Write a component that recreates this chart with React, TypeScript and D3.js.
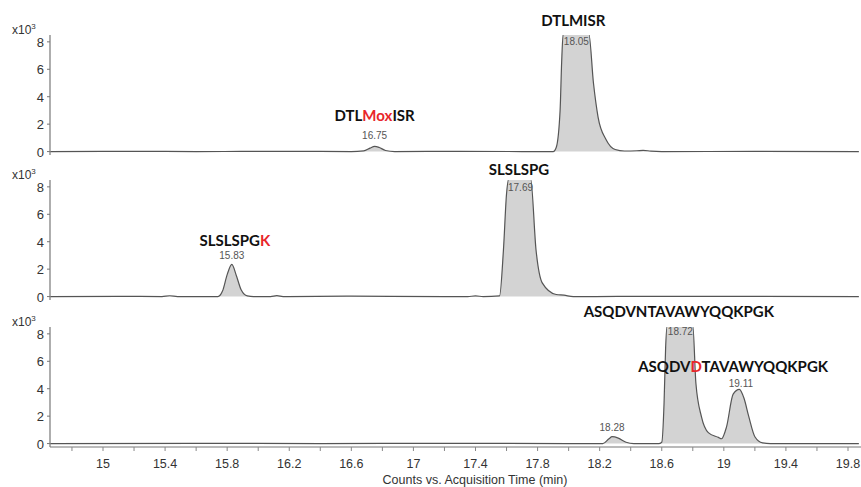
import React from 'react';
import * as d3 from 'd3';

// chromatogram traces (counts x10^3 vs minutes)
const dtlTimes = [14.66, 15.2, 15.6, 16.2, 16.6, 16.68, 16.72, 16.75, 16.78, 16.82, 16.88, 17.3, 17.7, 17.9, 17.92, 17.945, 17.955, 17.965, 18.13, 18.16, 18.19, 18.24, 18.3, 18.36, 18.44, 18.48, 18.53, 18.6, 19.2, 19.87];
const dtlCounts = [0, 0.02, 0, 0.02, 0, 0.05, 0.25, 0.38, 0.3, 0.08, 0, 0.02, 0, 0, 0.3, 3, 6.5, 8.6, 8.6, 5.0, 2.5, 0.9, 0.15, 0.04, 0.06, 0.09, 0.03, 0, 0.01, 0];

const slsTimes = [14.66, 15.1, 15.38, 15.43, 15.48, 15.74, 15.77, 15.8, 15.83, 15.86, 15.89, 15.93, 15.97, 16.08, 16.12, 16.16, 16.6, 17.2, 17.35, 17.4, 17.45, 17.555, 17.58, 17.6, 17.615, 17.755, 17.79, 17.83, 17.92, 17.97, 18.03, 18.6, 19.87];
const slsCounts = [0, 0.02, 0, 0.06, 0, 0, 0.4, 1.6, 2.35, 1.5, 0.5, 0.05, 0, 0, 0.07, 0, 0.03, 0, 0, 0.05, 0, 0.05, 3.4, 7.5, 8.6, 8.6, 3.4, 1.0, 0.15, 0.1, 0, 0.02, 0];

const asqTimes = [14.66, 15.6, 16.4, 17.2, 18.0, 18.22, 18.26, 18.28, 18.32, 18.37, 18.42, 18.58, 18.6, 18.615, 18.625, 18.635, 18.8, 18.82, 18.856, 18.9, 18.965, 18.985, 19.017, 19.06, 19.1, 19.13, 19.16, 19.2, 19.25, 19.3, 19.87];
const asqCounts = [0, 0.02, 0, 0.02, 0, 0, 0.35, 0.5, 0.4, 0.1, 0, 0, 0.1, 3, 7, 8.6, 8.6, 4.4, 1.95, 0.8, 0.45, 0.35, 1.2, 3.6, 3.95, 3.3, 2.0, 0.5, 0.05, 0, 0];

const xTicks = [15, 15.4, 15.8, 16.2, 16.6, 17, 17.4, 17.8, 18.2, 18.6, 19, 19.4, 19.8];
const yTicks = [0, 2, 4, 6, 8];

const traces = [
  { times: dtlTimes, counts: dtlCounts },
  { times: slsTimes, counts: slsCounts },
  { times: asqTimes, counts: asqCounts },
];

// peptide names: text pieces, red marks the modified residue
const peptideNames = [
  [[['DTL', false], ['Mox', true], ['ISR', false]], [['DTLMISR', false]]],
  [[['SLSLSPG', false], ['K', true]], [['SLSLSPG', false]]],
  [[['ASQDVNTAVAWYQQKPGK', false]], [['ASQDV', false], ['D', true], ['TAVAWYQQKPGK', false]]],
];
const peptideAt = [[[16.75, 2.2], [18.03, 9.15]], [[15.85, 3.7], [17.68, 8.9]], [[18.71, 9.2], [19.06, 5.2]]];

const rtLabels = [['16.75', '18.05'], ['15.83', '17.69'], ['18.28', '18.72', '19.11']];
const rtAt = [[[16.75, 0.95], [18.05, 7.75]], [[15.83, 2.75], [17.69, 7.7]], [[18.28, 0.95], [18.72, 7.9], [19.11, 4.1]]];

export default function App() {
  const width = 861, height = 487;
  const left = 50, right = 861;
  const tops = [35, 180, 327];
  const panelH = 120;

  const x = d3.scaleLinear().domain([15, 19.8]).range([103, 848]);
  const minor = d3.range(14.8, 19.9, 0.2);

  return (
    <svg width={width} height={height} style={{ position: 'absolute', left: 0, top: 0, background: '#fff' }}
      fontFamily="'Liberation Sans', Arial, sans-serif">
      <defs>
        {tops.map((t, i) => (
          <clipPath id={'clip' + i} key={i}>
            <rect x={left} y={t} width={right - left} height={panelH} />
          </clipPath>
        ))}
      </defs>
      {tops.map((top, i) => {
        const y = d3.scaleLinear().domain([-0.25, 8.5]).range([top + panelH, top]);
        const tr = traces[i];
        const pts = tr.times.map((t, k) => [t, tr.counts[k]] as [number, number]);
        const area = d3.area<[number, number]>()
          .x(d => x(d[0])).y0(y(0)).y1(d => y(d[1]))
          .curve(d3.curveMonotoneX);
        const line = d3.line<[number, number]>()
          .x(d => x(d[0])).y(d => y(d[1]))
          .curve(d3.curveMonotoneX);
        return (
          <g key={i}>
            <g clipPath={`url(#clip${i})`}>
              <path d={area(pts) || ''} fill="#d3d3d3" />
              <path d={line(pts) || ''} fill="none" stroke="#555" strokeWidth={1.2} />
            </g>
            <line x1={left} x2={left} y1={top} y2={top + panelH} stroke="#777" strokeWidth={1.2} />
            {yTicks.map(v => (
              <g key={v}>
                <line x1={left - 3} x2={left} y1={y(v)} y2={y(v)} stroke="#777" />
                <text x={left - 6} y={y(v) + 5} textAnchor="end" fontSize={13} fill="#333">{v}</text>
              </g>
            ))}
            <text x={12} y={top - 1} fontSize={12} fill="#333">x10<tspan fontSize={8} dy={-5}>3</tspan></text>
            {peptideNames[i].map((segs, j) => (
              <text key={'p' + j} x={x(peptideAt[i][j][0])} y={y(peptideAt[i][j][1])} textAnchor="middle"
                fontFamily="Lato, 'Open Sans', sans-serif" fontWeight="bold" fontSize={15} fill="#111">
                {segs.map((s, k) => <tspan key={k} fill={s[1] ? '#e8262a' : '#111'}>{s[0] as string}</tspan>)}
              </text>
            ))}
            {rtLabels[i].map((s, j) => (
              <text key={'r' + j} x={x(rtAt[i][j][0])} y={y(rtAt[i][j][1])} textAnchor="middle" fontSize={10} fill="#555">{s}</text>
            ))}
          </g>
        );
      })}
      {/* x axis under the last panel */}
      <line x1={left} x2={right} y1={447} y2={447} stroke="#777" strokeWidth={1.2} />
      {minor.map((t, k) => (
        <line key={k} x1={x(t)} x2={x(t)} y1={447} y2={451} stroke="#888" />
      ))}
      {xTicks.map(t => (
        <text key={t} x={x(t)} y={468} textAnchor="middle" fontSize={12.5} fill="#333">{t}</text>
      ))}
      <text x={475} y={484} textAnchor="middle" fontSize={12.5} fill="#333">Counts vs. Acquisition Time (min)</text>
    </svg>
  );
}
